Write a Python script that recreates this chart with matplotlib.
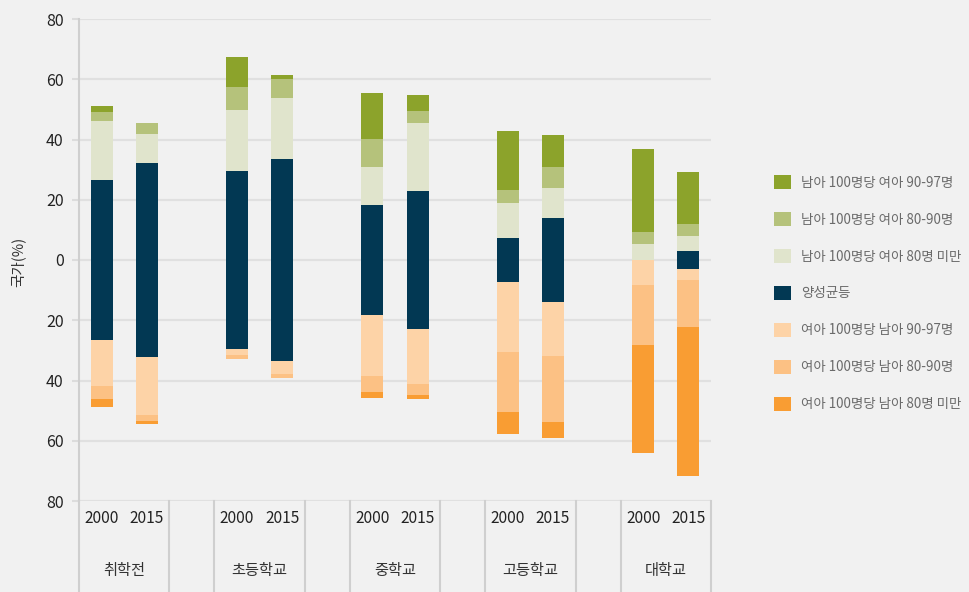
import matplotlib
matplotlib.use("Agg")
import matplotlib.pyplot as plt
from matplotlib.lines import Line2D
import numpy as np

plt.rcParams['font.family'] = ['Noto Sans CJK KR', 'DejaVu Sans']

# ---- data ----
levels = ['취학전', '초등학교', '중학교', '고등학교', '대학교']
years = ['2000', '2015']
tick_vals = [-80, -60, -40, -20, 0, 20, 40, 60, 80]
tick_labels = ['80', '60', '40', '20', '0', '20', '40', '60', '80']
ylabel = '국가(%)'

# parity share (centered on zero)
parity = [53.4, 64.3, 59.0, 67.0, 36.4, 45.8, 14.6, 28.2, 0.0, 5.7]
# girls per 100 boys (above)
g_lt80 = [19.5, 9.75, 20.3, 20.3, 12.7, 22.6, 11.7, 9.9, 5.4, 5.25]
g_80_90 = [3.0, 3.6, 7.7, 6.3, 9.3, 4.0, 4.3, 6.9, 4.0, 3.9]
g_90_97 = [2.0, 0.0, 9.9, 1.3, 15.3, 5.3, 19.6, 10.7, 27.5, 17.3]
# boys per 100 girls (below)
b_90_97 = [15.0, 19.45, 1.9, 4.2, 20.2, 18.1, 23.4, 17.9, 8.2, 3.65]
b_80_90 = [4.6, 1.7, 1.6, 1.6, 5.3, 3.7, 19.9, 21.9, 19.9, 15.9]
b_lt80 = [2.6, 1.0, 0.0, 0.0, 2.0, 1.6, 7.3, 5.3, 36.1, 49.4]

labels = {
    'g90': '남아 100명당 여아 90-97명',
    'g80': '남아 100명당 여아 80-90명',
    'glt': '남아 100명당 여아 80명 미만',
    'par': '양성균등',
    'b90': '여아 100명당 남아 90-97명',
    'b80': '여아 100명당 남아 80-90명',
    'blt': '여아 100명당 남아 80명 미만',
}
colors = {
    'g90': '#8ca32b', 'g80': '#b5c27b', 'glt': '#e0e4cc', 'par': '#023853',
    'b90': '#fdd3a7', 'b80': '#fcc184', 'blt': '#f99d33',
}

# ---- layout ----
bg = '#f1f1f1'
fig = plt.figure(figsize=(9.70, 5.92), dpi=100, facecolor=bg)
ax = fig.add_axes([79/970, 1-501/592, (711-79)/970, (501-19)/592], facecolor=bg)

x = []
for gi in range(len(levels)):
    x += [gi*3, gi*3+1]
x = np.array(x, dtype=float)
w = 0.485

par = np.array(parity)
half = par/2.0
handles = {}
handles['par'] = ax.bar(x, par, bottom=-half, width=w, color=colors['par'], zorder=3)
bot = half.copy()
for key, vals in [('glt', g_lt80), ('g80', g_80_90), ('g90', g_90_97)]:
    v = np.array(vals)
    handles[key] = ax.bar(x, v, bottom=bot, width=w, color=colors[key], zorder=3)
    bot = bot + v
bot = -half.copy()
for key, vals in [('b90', b_90_97), ('b80', b_80_90), ('blt', b_lt80)]:
    v = np.array(vals)
    handles[key] = ax.bar(x, -v, bottom=bot, width=w, color=colors[key], zorder=3)
    bot = bot - v

ax.set_xlim(-0.5, 13.5)
ax.set_ylim(-80, 80)
ax.set_yticks(tick_vals)
ax.set_yticklabels(tick_labels)
ax.yaxis.grid(True, color='#e0e0e0', linewidth=1.6, zorder=0)
ax.set_axisbelow(True)
for s in ['top', 'right', 'bottom']:
    ax.spines[s].set_visible(False)
ax.spines['left'].set_color('#cfcfcf')
ax.spines['left'].set_linewidth(1.5)
ax.tick_params(axis='y', length=5, width=1.5, color='#dcdcdc', pad=6,
               labelsize=11.5, labelcolor='#222222')

ax.set_xticks(x)
ax.set_xticklabels(years*len(levels))
ax.tick_params(axis='x', length=0, pad=6.5, labelsize=11.2, labelcolor='#222222')

ax.set_ylabel(ylabel, fontsize=10.5, color='#333333')
ax.yaxis.set_label_coords(-(79-25)/632, (501-262)/482)

# group label row
trans = ax.get_xaxis_transform()
for gi, name in enumerate(levels):
    ax.text(gi*3+0.5, -(570-501)/482, name, transform=trans, ha='center', va='center',
            fontsize=11, color='#333333')

# divider lines under plot
ybot = -(592-501)/482 - 0.01
for xd in [-0.5, 1.5, 2.5, 4.5, 5.5, 7.5, 8.5, 10.5, 11.5, 13.5]:
    ax.add_line(Line2D([xd, xd], [0, ybot], transform=trans, color='#cfcfcf',
                       linewidth=1.5, clip_on=False))

order = ['g90', 'g80', 'glt', 'par', 'b90', 'b80', 'blt']
leg = ax.legend([handles[k] for k in order], [labels[k] for k in order],
                loc='upper left', bbox_to_anchor=(774/970, 1-175/592),
                bbox_transform=fig.transFigure, frameon=False, fontsize=9.7,
                handlelength=1.26, handleheight=1.26, handletextpad=0.72,
                labelspacing=1.65, borderpad=0, borderaxespad=0)
for t in leg.get_texts():
    t.set_color('#6a6a6a')

fig.savefig('out.png', dpi=100, facecolor=bg)
